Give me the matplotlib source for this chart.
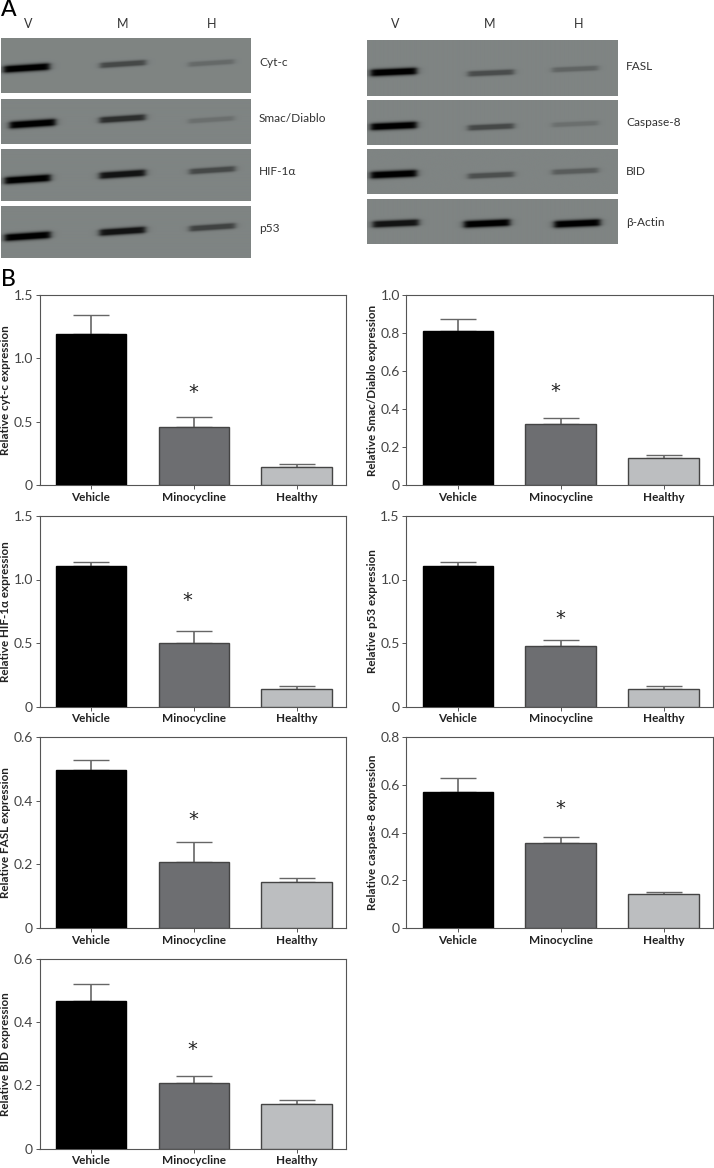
import numpy as np
import matplotlib
matplotlib.use("Agg")
import matplotlib.pyplot as plt
from matplotlib.colors import LinearSegmentedColormap

W, H = 714, 1168
plt.rcParams['font.family'] = ['Lato', 'DejaVu Sans']

groups = ['Vehicle', 'Minocycline', 'Healthy']
colors = ['#000000', '#6d6e71', '#bcbec0']

ylabels = ['Relative cyt-c expression', 'Relative Smac/Diablo expression', 'Relative HIF-1\u03b1 expression',
           'Relative p53 expression', 'Relative FASL expression', 'Relative caspase-8 expression',
           'Relative BID expression']
means = [[1.19, 0.46, 0.145], [0.81, 0.32, 0.145], [1.11, 0.50, 0.14], [1.11, 0.475, 0.14],
         [0.497, 0.208, 0.145], [0.57, 0.358, 0.143], [0.467, 0.208, 0.14]]
errors = [[0.15, 0.08, 0.02], [0.065, 0.035, 0.012], [0.03, 0.095, 0.02], [0.03, 0.05, 0.02],
          [0.03, 0.062, 0.013], [0.058, 0.025, 0.007], [0.053, 0.022, 0.013]]
ymax = [1.5, 1.0, 1.5, 1.5, 0.6, 0.8, 0.6]
yticks = [[0, 0.5, 1.0, 1.5], [0, 0.2, 0.4, 0.6, 0.8, 1.0], [0, 0.5, 1.0, 1.5], [0, 0.5, 1.0, 1.5],
          [0, 0.2, 0.4, 0.6], [0, 0.2, 0.4, 0.6, 0.8], [0, 0.2, 0.4, 0.6]]
star_x = [1.0, 0.95, 0.94, 1.0, 1.0, 1.0, 0.99]
star_y = [0.757, 0.506, 0.862, 0.72, 0.352, 0.515, 0.324]
# panel boxes in pixels: left, top, right, bottom
panel_px = [(39.5, 294.7, 346, 485.3), (406.3, 294.7, 713, 485.3), (39.5, 516, 346, 706.5), (406.3, 516, 713, 706.5),
            (39.5, 737, 346, 928), (406.3, 737, 713, 928), (39.5, 958.7, 346, 1148.7)]

blot_names_l = ['Cyt-c', 'Smac/Diablo', 'HIF-1\u03b1', 'p53']
blot_names_r = ['FASL', 'Caspase-8', 'BID', '\u03b2-Actin']
lanes = ['V', 'M', 'H']
blot_strength_l = [[1.0, 0.45, 0.2], [1.0, 0.65, 0.16], [1.0, 0.85, 0.45], [1.0, 0.85, 0.5]]
blot_strength_r = [[1.0, 0.42, 0.24], [1.0, 0.45, 0.16], [1.0, 0.4, 0.3], [0.85, 1.0, 1.0]]

fig = plt.figure(figsize=(W / 100, H / 100), dpi=100, facecolor='white')
blot_cmap = LinearSegmentedColormap.from_list('blot', ['#000000', '#7f8483'])

def px_axes(l, t, r, b, **kw):
    return fig.add_axes([l / W, 1 - b / H, (r - l) / W, (b - t) / H], **kw)

def blot(box, strengths, centres, ys, lane_w=23.0, thick=2.4, tilt=-3.0):
    l, t, r, b = box
    ax = px_axes(l, t, r, b)
    w, h = int(r - l) * 3, int(b - t) * 3
    xx, yy = np.meshgrid(np.linspace(l, r, w), np.linspace(t, b, h))
    img = np.ones((h, w))
    for s, cx, cy in zip(strengths, centres, ys):
        yc = cy + tilt * (xx - cx) / lane_w / 2
        across = np.exp(-((yy - yc) / (thick * (0.8 + 0.5 * s))) ** 2)
        along = 1 / (1 + ((xx - cx) / lane_w) ** 14)
        img -= s * np.minimum(1.7 * across, 1) * along
    ax.imshow(np.clip(img, 0, 1), cmap=blot_cmap, vmin=0, vmax=1, aspect='auto', interpolation='bilinear',
              extent=(l, r, b, t))
    ax.axis('off')

left_boxes = [(0.5, 38, 250.5, 93), (0.5, 98.5, 250.5, 144), (0.5, 149, 250.5, 201.5), (0.5, 206, 250.5, 258.5)]
right_boxes = [(367.5, 40, 617.5, 96), (367.5, 100, 617.5, 145), (367.5, 149, 617.5, 194.5), (367.5, 198.5, 617.5, 244.5)]
left_cx = [[26, 122.5, 211], [32, 122, 211], [27, 122, 212], [27, 122, 212]]
left_cy = [[68, 64, 63], [124, 119, 120], [180, 175, 171], [237, 232, 228]]
right_cx = [[394, 491, 575], [394, 491, 575], [394, 491, 575], [396, 487, 577]]
right_cy = [[72, 73, 69], [126, 127, 124], [175, 176, 172], [224, 224, 224]]
for box, s, cx, cy in zip(left_boxes, blot_strength_l, left_cx, left_cy):
    blot(box, s, cx, cy)
for box, s, cx, cy in zip(right_boxes, blot_strength_r, right_cx, right_cy):
    blot(box, s, cx, cy, tilt=-2.0)

def ftext(x, y, s, **kw):
    fig.text(x / W, 1 - y / H, s, va='center', **kw)

ftext(1, 10, 'A', fontsize=16.5, color='black', fontweight='medium')
ftext(1, 279, 'B', fontsize=16.5, color='black', fontweight='medium')
for x, s in zip([28, 123, 212], lanes):
    ftext(x, 24, s, fontsize=9, ha='center', color='#333333')
for x, s in zip([395, 490, 579], lanes):
    ftext(x, 24, s, fontsize=9, ha='center', color='#333333')
for y, s in zip([62, 119, 171, 229], blot_names_l):
    ftext(259, y, s, fontsize=8.6, color='#333333')
for y, s in zip([67, 123, 171, 223], blot_names_r):
    ftext(626, y, s, fontsize=8.6, color='#333333')

for i in range(7):
    ax = px_axes(*panel_px[i])
    bars = ax.bar(range(3), means[i], width=0.685, color=colors, edgecolor='#444444', linewidth=1.0, zorder=3)
    bars[0].set_edgecolor('black')
    ax.errorbar(range(3), means[i], yerr=[[0, 0, 0], errors[i]], fmt='none', ecolor='#666666',
                elinewidth=1.2, capsize=13, capthick=1.0, zorder=2)
    ax.set_xlim(-0.5, 2.48)
    ax.set_ylim(0, ymax[i])
    ax.set_xticks(range(3))
    ax.set_xticklabels(groups, fontsize=8.5, fontweight='bold', color='#222222')
    ax.set_yticks(yticks[i])
    ax.set_yticklabels(['0' if v == 0 else f'{v:.1f}' for v in yticks[i]], fontsize=10, color='#444444')
    ax.tick_params(axis='both', length=3.2, width=0.7, color='#555555', pad=1.5)
    ax.set_ylabel(ylabels[i], fontsize=8.4, fontweight='bold', color='#222222')
    lx = 10.5 if i % 2 == 0 else 378.5
    ax.yaxis.set_label_coords((lx - panel_px[i][0]) / (panel_px[i][2] - panel_px[i][0]), 0.5)
    ax.annotate('*', (star_x[i], star_y[i]), xytext=(0, -2.2), textcoords='offset points', fontsize=14,
                ha='center', va='center', color='#222222', family='DejaVu Sans')
    for sp in ax.spines.values():
        sp.set_linewidth(0.8)
        sp.set_color('#555555')

fig.savefig('out.png', dpi=100, facecolor='white')
